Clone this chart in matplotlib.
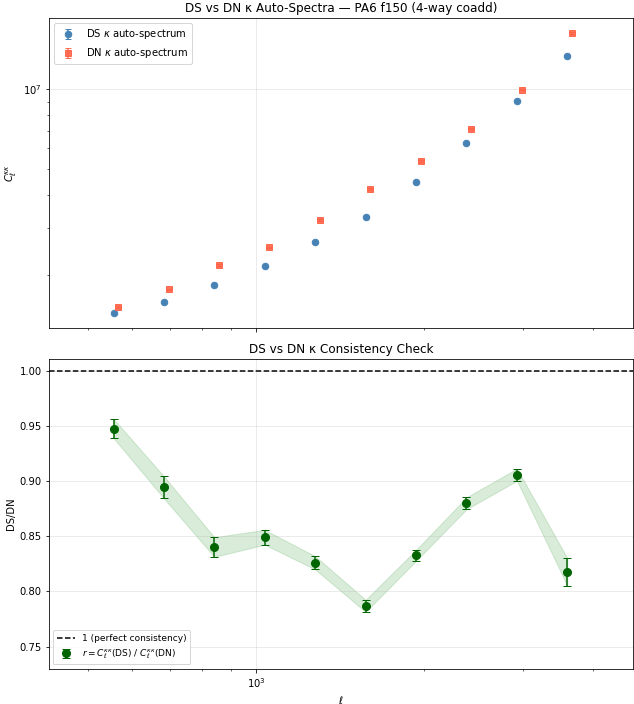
import numpy as np
import matplotlib
matplotlib.use("Agg")
import matplotlib.pyplot as plt

# ------------------- dados -------------------
ell = [555, 683, 841, 1035, 1275, 1569, 1932, 2378, 2928, 3605]

cl_ds = [1.437e6, 1.576e6, 1.832e6, 2.148e6, 2.661e6, 3.315e6, 4.475e6, 6.262e6, 9.01e6, 1.34e7]
cl_ds_err = [1.0e4, 1.2e4, 1.3e4, 1.4e4, 1.6e4, 1.8e4, 2.2e4, 3.0e4, 4.5e4, 1.0e5]

cl_dn = [1.514e6, 1.760e6, 2.179e6, 2.534e6, 3.221e6, 4.213e6, 5.37e6, 7.11e6, 9.97e6, 1.63e7]
cl_dn_err = [1.1e4, 1.3e4, 1.5e4, 1.6e4, 1.9e4, 2.2e4, 2.6e4, 3.4e4, 5.0e4, 1.2e5]

ratio = [0.9475, 0.8943, 0.8402, 0.8491, 0.8259, 0.7870, 0.8327, 0.8798, 0.9057, 0.8177]
ratio_err = [0.0087, 0.0100, 0.0089, 0.0067, 0.0060, 0.0055, 0.0050, 0.0054, 0.0055, 0.0125]
# ---------------------------------------------------------------

ell = np.array(ell)
ratio = np.array(ratio)
ratio_err = np.array(ratio_err)

DPI = 72
fig, (ax1, ax2) = plt.subplots(2, 1, figsize=(634 / DPI, 704 / DPI), sharex=True)

ax1.errorbar(ell, cl_ds, yerr=cl_ds_err, fmt="o", color="steelblue",
             markersize=6.5, capsize=3, label=r"DS $\kappa$ auto-spectrum")
ax1.errorbar(ell * 1.02, cl_dn, yerr=cl_dn_err, fmt="s", color="tomato",
             markersize=6.5, capsize=3, alpha=0.9, label=r"DN $\kappa$ auto-spectrum")
ax1.set_xscale("log")
ax1.set_yscale("log")
ax1.set_ylabel(r"$C_\ell^{\kappa\kappa}$")
ax1.set_title("DS vs DN κ Auto-Spectra — PA6 f150 (4-way coadd)")
ax1.legend(loc="upper left")
ax1.grid(True, alpha=0.3)

ax2.axhline(1.0, color="black", linestyle="--", label="1 (perfect consistency)")
ax2.fill_between(ell, ratio - ratio_err, ratio + ratio_err, color="green", alpha=0.15)
ax2.errorbar(ell, ratio, yerr=ratio_err, fmt="o", color="darkgreen",
             markersize=8, capsize=4,
             label=r"$r = C_\ell^{\kappa\kappa}$(DS) / $C_\ell^{\kappa\kappa}$(DN)")
ax2.set_xlabel(r"$\ell$")
ax2.set_ylabel("DS/DN")
ax2.set_title("DS vs DN κ Consistency Check")
ax2.set_ylim(0.73, 1.01)
ax2.set_xlim(425, 4720)
ax2.legend(loc="lower left", fontsize=9)
ax2.grid(True, alpha=0.3)

fig.subplots_adjust(left=0.077, right=0.998, top=0.974, bottom=0.05, hspace=0.103)
fig.savefig("out.png", dpi=DPI)
